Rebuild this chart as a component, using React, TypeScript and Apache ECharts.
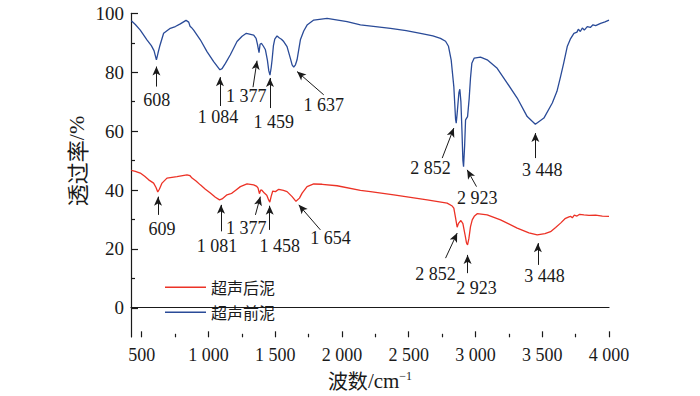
import React, { useEffect, useRef } from "react";
import * as echarts from "echarts";

// wavenumber (cm-1), transmittance (%)
const beforeX = [420, 450, 487, 537, 570, 590, 608, 620, 632, 662, 712, 750, 787, 830, 850, 860, 870, 887, 937, 987, 1037, 1084, 1100, 1125, 1162, 1212, 1250, 1282, 1337, 1355, 1365, 1377, 1385, 1395, 1410, 1425, 1440, 1450, 1459, 1468, 1475, 1485, 1495, 1512, 1530, 1545, 1562, 1587, 1612, 1625, 1637, 1650, 1662, 1687, 1712, 1737, 1787, 1887, 2037, 2137, 2250, 2362, 2480, 2587, 2680, 2737, 2775, 2797, 2817, 2837, 2850, 2855, 2862, 2875, 2882, 2890, 2898, 2905, 2910, 2918, 2925, 2940, 2952, 2962, 2972, 2990, 3037, 3087, 3162, 3237, 3312, 3387, 3448, 3512, 3575, 3610, 3637, 3660, 3687, 3710, 3737, 3760, 3770, 3785, 3800, 3815, 3837, 3860, 3880, 3900, 3937, 3970, 4000];
const beforeY = [97.5, 96.2, 94.3, 91, 89, 87.3, 84.2, 86.5, 88.7, 93.2, 94.9, 95.5, 96.4, 97.6, 97, 95.6, 95.2, 94.3, 91, 87, 83.6, 80.8, 81.2, 83, 85.9, 90.4, 92.2, 93.2, 92.6, 91.5, 89.5, 86.6, 89.5, 89.8, 88.8, 87.6, 84, 80.5, 79, 81.5, 84.2, 89, 91.2, 92.3, 91.6, 91.2, 90.4, 88.7, 84.7, 82.5, 81.7, 82.5, 84.2, 91, 94, 96, 97.7, 98.3, 97.2, 96.1, 95.5, 94.9, 94.1, 93.2, 92.3, 91.5, 90.5, 88.8, 84.2, 75.1, 64, 62.7, 66, 73, 74.2, 70, 60, 50, 47.9, 55, 63.8, 64.9, 71, 78, 83, 84.8, 85.1, 84.2, 81.3, 76.3, 71.2, 64.9, 62.3, 64.4, 69.5, 73.5, 78.5, 83, 88.7, 91.2, 93.2, 93.6, 94.6, 93.8, 95, 94.3, 95.5, 95.2, 96.1, 95.8, 96.6, 97.1, 97.7];

const afterX = [420, 450, 487, 520, 550, 587, 605, 618, 630, 650, 687, 762, 837, 860, 875, 905, 937, 975, 1012, 1050, 1081, 1100, 1137, 1160, 1175, 1200, 1237, 1287, 1337, 1360, 1370, 1380, 1390, 1400, 1417, 1435, 1450, 1458, 1468, 1480, 1500, 1525, 1560, 1587, 1625, 1654, 1680, 1700, 1737, 1787, 1850, 1962, 2137, 2212, 2387, 2637, 2787, 2825, 2837, 2850, 2862, 2872, 2890, 2905, 2920, 2932, 2940, 2950, 2962, 2975, 2990, 3012, 3087, 3187, 3312, 3400, 3462, 3520, 3562, 3600, 3637, 3670, 3700, 3712, 3725, 3740, 3760, 3780, 3812, 3850, 3900, 3950, 4000];
const afterY = [46.6, 46.3, 45.7, 44.6, 43.4, 42.3, 40.8, 39.3, 40.2, 42.3, 44, 44.5, 45.1, 44.8, 44, 43, 41.7, 40.2, 38.9, 37.5, 36.6, 36.9, 38.3, 38.6, 38.9, 39.8, 41.1, 42, 41.7, 41.2, 40.6, 38.7, 40, 39.8, 38.9, 38.2, 36.5, 35.8, 37.8, 39.6, 39.4, 40.2, 39.8, 39.4, 37.7, 36.1, 37.2, 38.9, 41.1, 42, 41.9, 41.4, 39.8, 39.4, 38.3, 36.6, 35.5, 34.5, 33.8, 30.5, 27.3, 28.6, 29.6, 28.5, 25, 22, 21.3, 23.5, 27.5, 29.8, 31, 31.9, 31.5, 29.8, 27, 25.4, 24.7, 25.1, 25.8, 27.2, 28.7, 30.2, 30.8, 31, 30.5, 31.4, 31.1, 31.7, 31.5, 31.3, 31.4, 31.1, 31];

const seriesNames = ["超声后泥", "超声前泥"];

// peak annotations: text, arrow tail, arrow head, label centre (data coords)
const beforePeaks = [
  { text: "608", tail: [608, 75.1], head: [608, 81.9], label: [611, 70.6] },
  { text: "1 084", tail: [1084, 68.5], head: [1084, 78.3], label: [1070, 64.7] },
  { text: "1 377", tail: [1332, 74.9], head: [1362, 83.9], label: [1282, 72] },
  { text: "1 459", tail: [1459, 67.8], head: [1459, 78], label: [1487, 63.2] },
  { text: "1 637", tail: [1862, 72.3], head: [1662, 80.2], label: [1862, 68.9] },
  { text: "2 852", tail: [2750, 50.8], head: [2837, 61], label: [2662, 47.4] },
  { text: "2 923", tail: [3007, 41.1], head: [2937, 46.8], label: [3012, 37.2] },
  { text: "3 448", tail: [3448, 50.8], head: [3448, 59.3], label: [3500, 46.8] },
];
const afterPeaks = [
  { text: "609", tail: [620, 31.5], head: [620, 37.7], label: [650, 26.7] },
  { text: "1 081", tail: [1092, 25.9], head: [1092, 34.9], label: [1062, 21] },
  { text: "1 377", tail: [1350, 31.5], head: [1387, 37.7], label: [1282, 27] },
  { text: "1 458", tail: [1457, 26.4], head: [1457, 34.6], label: [1532, 21] },
  { text: "1 654", tail: [1837, 26.4], head: [1675, 34.9], label: [1912, 23.6] },
  { text: "2 852", tail: [2775, 16.8], head: [2862, 25.3], label: [2700, 11.5] },
  { text: "2 923", tail: [2940, 11.7], head: [2940, 17.9], label: [3007, 6.6] },
  { text: "3 448", tail: [3467, 14.5], head: [3467, 21.9], label: [3517, 10.6] },
];

const SERIF = '"Liberation Serif", "Times New Roman", serif';
const CJK = '"Noto Sans CJK SC", sans-serif';
const INK = "#1a1a1a";

const fmtX = (v: number) =>
  v >= 1000 ? `${Math.floor(v / 1000)} ${String(v % 1000).padStart(3, "0")}` : String(v);

function peaksMarks(peaks: typeof beforePeaks) {
  return {
    markLine: {
      silent: true,
      symbol: ["none", "arrow"],
      symbolSize: [6, 9],
      label: { show: false },
      lineStyle: { color: INK, width: 1, type: "solid" },
      emphasis: { disabled: true },
      data: peaks.map((p) => [{ coord: p.tail }, { coord: p.head }]),
    },
    markPoint: {
      silent: true,
      symbol: "circle",
      symbolSize: 1,
      itemStyle: { color: "rgba(0,0,0,0)" },
      label: {
        show: true,
        position: "inside",
        color: INK,
        fontSize: 18,
        fontFamily: SERIF,
        formatter: (p: any) => p.name,
      },
      emphasis: { disabled: true },
      data: peaks.map((p) => ({ name: p.text, coord: p.label, value: 0 })),
    },
  };
}

export default function App() {
  const ref = useRef<HTMLDivElement>(null);
  useEffect(() => {
    if (!ref.current) return;
    const chart = echarts.init(ref.current, undefined, { renderer: "svg" });
    const axisLineStyle = { color: INK, width: 1.2 };
    chart.setOption({
      animation: false,
      backgroundColor: "#fff",
      grid: [
        { left: 131, right: 91, top: 13.3, bottom: 58.7 },
        { left: 141.7, right: 91, top: 13.3, bottom: 58.7 },
        { left: 131, right: 91, top: 13.3, bottom: 88.15 },
      ],
      xAxis: [
        {
          gridIndex: 0,
          type: "value",
          min: 417.5,
          max: 4000,
          axisLine: { show: true, lineStyle: axisLineStyle },
          axisTick: { show: false },
          axisLabel: { show: false },
          splitLine: { show: false },
          name: "{zh|波数}{en|/cm}{sup|−1}",
          nameLocation: "middle",
          nameGap: 33,
          nameTextStyle: {
            rich: {
              zh: { fontFamily: CJK, fontSize: 20, color: INK },
              en: { fontFamily: SERIF, fontSize: 21, color: INK },
              sup: { fontFamily: SERIF, fontSize: 12, color: INK, verticalAlign: "top" },
            },
          },
        },
        {
          gridIndex: 1,
          type: "value",
          min: 500,
          max: 4000,
          interval: 500,
          axisLine: { show: false },
          axisTick: { show: true, inside: true, length: 6, lineStyle: { color: INK, width: 1.2 } },
          minorTick: { show: true, splitNumber: 2, length: 3.5, lineStyle: { color: INK, width: 1.2 } },
          axisLabel: { formatter: fmtX, fontSize: 18, fontFamily: SERIF, color: INK, margin: 9 },
          splitLine: { show: false },
          minorSplitLine: { show: false },
        },
        { gridIndex: 2, type: "value", show: false, min: 0, max: 1 },
      ],
      yAxis: [
        {
          gridIndex: 0,
          type: "value",
          min: -10,
          max: 100,
          axisLine: { show: true, lineStyle: axisLineStyle },
          axisTick: { show: false },
          axisLabel: { show: false },
          splitLine: { show: false },
        },
        { gridIndex: 1, type: "value", show: false, min: 0, max: 1 },
        {
          gridIndex: 2,
          type: "value",
          min: 0,
          max: 100,
          interval: 20,
          axisLine: { show: false },
          axisTick: { show: true, inside: true, length: 7, lineStyle: { color: INK, width: 1.2 } },
          minorTick: { show: true, splitNumber: 2, length: 4, lineStyle: { color: INK, width: 1.2 } },
          axisLabel: { fontSize: 19, fontFamily: SERIF, color: INK, margin: 7 },
          splitLine: { show: false },
          minorSplitLine: { show: false },
        },
      ],
      legend: {
        orient: "vertical",
        left: 160,
        top: 274.2,
        icon: "rect",
        itemWidth: 41,
        itemHeight: 1.5,
        itemGap: 9,
        data: seriesNames,
        textStyle: { fontSize: 16, fontFamily: CJK, color: INK },
      },
      graphic: [
        {
          type: "text",
          x: 76,
          y: 161,
          rotation: Math.PI / 2,
          style: {
            text: "{zh|透过率}{en|/%}",
            align: "center",
            verticalAlign: "middle",
            rich: {
              zh: { fontFamily: CJK, fontSize: 22, fill: INK, color: INK },
              en: { fontFamily: SERIF, fontSize: 22, fill: INK, color: INK },
            },
          },
        },
      ],
      series: [
        {
          name: seriesNames[0],
          type: "line",
          xAxisIndex: 0,
          yAxisIndex: 0,
          symbol: "none",
          data: afterX.map((x, i) => [x, afterY[i]]),
          lineStyle: { color: "#ec3226", width: 1.3 },
          itemStyle: { color: "#ec3226" },
          ...peaksMarks(afterPeaks),
        },
        {
          name: seriesNames[1],
          type: "line",
          xAxisIndex: 0,
          yAxisIndex: 0,
          symbol: "none",
          data: beforeX.map((x, i) => [x, beforeY[i]]),
          lineStyle: { color: "#2a4b98", width: 1.3 },
          itemStyle: { color: "#2a4b98" },
          ...peaksMarks(beforePeaks),
        },
      ],
    });
    return () => chart.dispose();
  }, []);
  return <div ref={ref} style={{ width: 700, height: 396, position: "absolute", left: 0, top: 0 }} />;
}
